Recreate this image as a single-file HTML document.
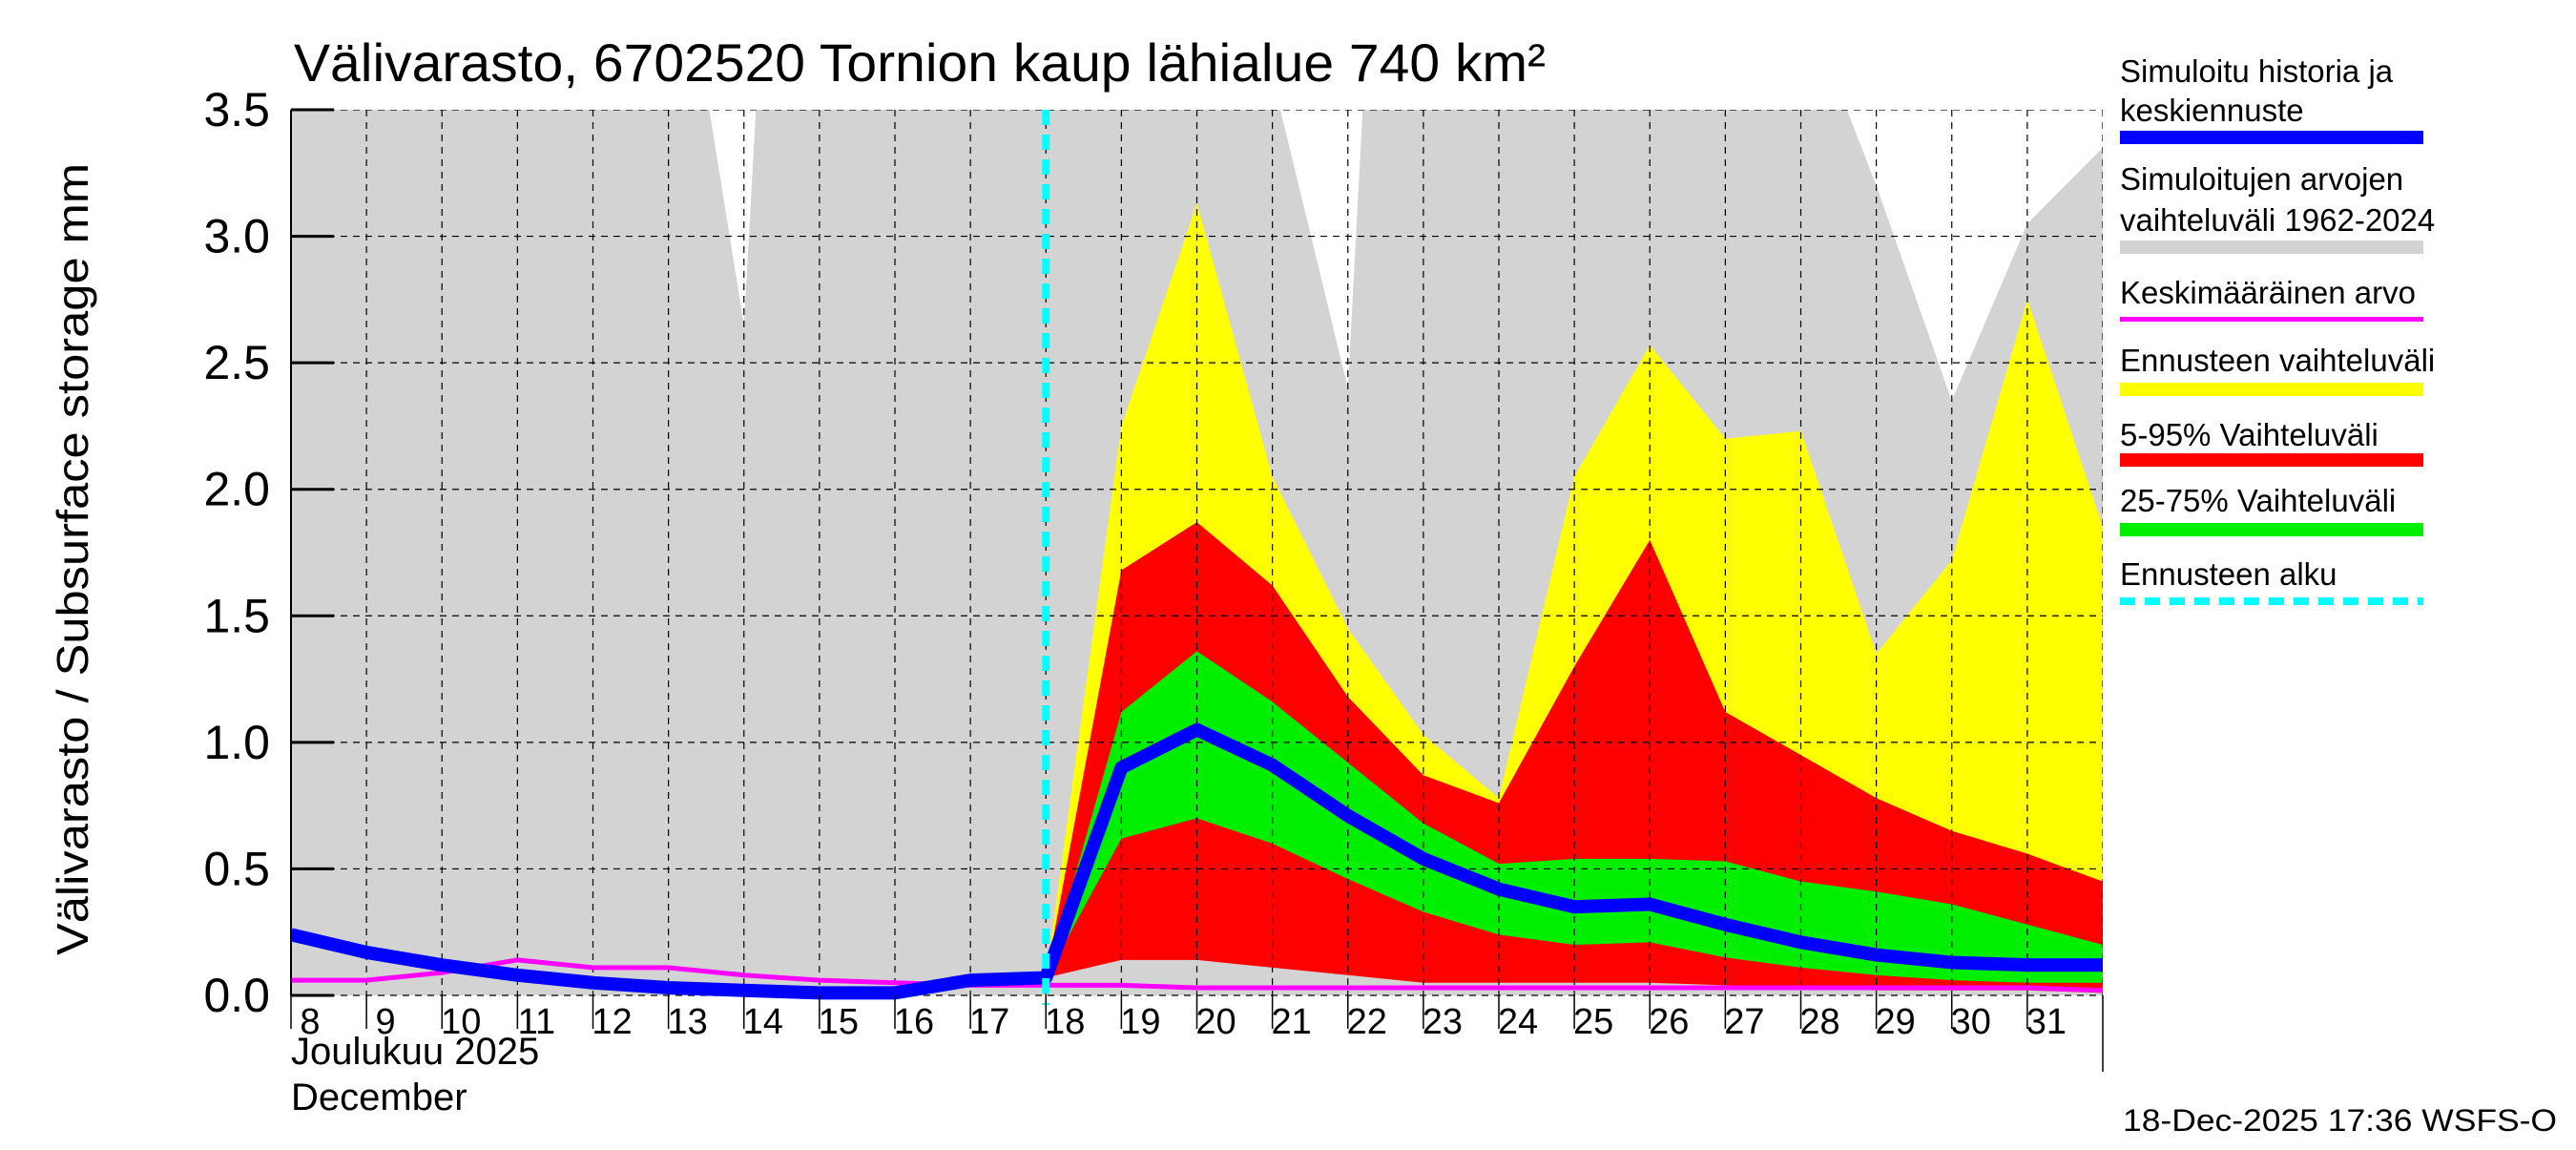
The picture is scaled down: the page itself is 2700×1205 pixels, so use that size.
<!DOCTYPE html>
<html><head><meta charset="utf-8"><style>
html,body{margin:0;padding:0;background:#fff}
svg text{font-family:"Liberation Sans Narrow","Liberation Sans",sans-serif;fill:#000}
</style></head><body>
<svg id="chart" width="2700" height="1200" viewBox="0 0 2700 1200" xmlns="http://www.w3.org/2000/svg">
<defs><clipPath id="pc"><rect x="305" y="115" width="1899" height="935"/></clipPath></defs>
<g id="plot" clip-path="url(#pc)"></g>
<g id="axes"></g>
<text x="308" y="85" font-size="56" textLength="1312" lengthAdjust="spacingAndGlyphs">Välivarasto, 6702520 Tornion kaup lähialue 740 km²</text>
<text transform="translate(92,586) rotate(-90)" text-anchor="middle" font-size="46" textLength="830" lengthAdjust="spacingAndGlyphs">Välivarasto / Subsurface storage  mm</text>
<text x="305" y="1115" font-size="40">Joulukuu  2025</text>
<text x="305" y="1163" font-size="40">December</text>
<text x="2680" y="1185" text-anchor="end" font-size="32" textLength="455" lengthAdjust="spacingAndGlyphs">18-Dec-2025 17:36 WSFS-O</text>
<g id="legend">
<g>
<text x="2222" y="86" font-size="33">Simuloitu historia ja</text>
<text x="2222" y="127" font-size="33">keskiennuste</text>
<rect x="2222" y="137" width="318" height="14" fill="#0000ff"/></g>
<g>
<text x="2222" y="199" font-size="33">Simuloitujen arvojen</text>
<text x="2222" y="242" font-size="33">vaihteluväli 1962-2024</text>
<rect x="2222" y="252" width="318" height="14" fill="#d3d3d3"/></g>
<g>
<text x="2222" y="318" font-size="33">Keskimääräinen arvo</text>
<rect x="2222" y="332" width="318" height="5" fill="#ff00ff"/></g>
<g>
<text x="2222" y="389" font-size="33">Ennusteen vaihteluväli</text>
<rect x="2222" y="401" width="318" height="14" fill="#ffff00"/></g>
<g>
<text x="2222" y="467" font-size="33">5-95% Vaihteluväli</text>
<rect x="2222" y="475" width="318" height="14" fill="#ff0000"/></g>
<g>
<text x="2222" y="536" font-size="33">25-75% Vaihteluväli</text>
<rect x="2222" y="548" width="318" height="14" fill="#00ee00"/></g>
<g>
<text x="2222" y="613" font-size="33">Ennusteen alku</text>
<line x1="2222" y1="630" x2="2540" y2="630" stroke="#00ffff" stroke-width="8" stroke-dasharray="16,10"/></g>
</g>
</svg>
<script>
const dayLabels=[8,9,10,11,12,13,14,15,16,17,18,19,20,21,22,23,24,25,26,27,28,29,30,31];
const yTicks=[0,0.5,1,1.5,2,2.5,3,3.5];
const histMax=[8,8,8,8,8,4.5,2.65,8,8,8,8,8,8,3.63,2.4,8,8,8,8,8,3.97,3.2,2.35,3.05,3.35];
const fcStart=10;
const yelHi=[0.07,2.25,3.13,2.05,1.45,1.03,0.78,2.05,2.57,2.2,2.23,1.35,1.72,2.75,1.85];
const yelLo=[0.07,0.15,0.15,0.12,0.09,0.06,0.08,0.08,0.07,0.06,0.05,0.04,0.03,0.03,0.02];
const redHi=[0.07,1.68,1.87,1.62,1.18,0.87,0.76,1.3,1.8,1.12,0.95,0.78,0.65,0.56,0.45];
const redLo=[0.07,0.14,0.14,0.11,0.08,0.05,0.05,0.05,0.05,0.04,0.03,0.02,0.02,0.02,0.01];
const grnHi=[0.07,1.12,1.36,1.16,0.92,0.68,0.52,0.54,0.54,0.53,0.45,0.41,0.36,0.28,0.2];
const grnLo=[0.07,0.62,0.7,0.6,0.46,0.33,0.24,0.2,0.21,0.15,0.11,0.08,0.06,0.05,0.05];
const blue=[0.24,0.17,0.12,0.08,0.05,0.03,0.02,0.01,0.01,0.06,0.07,0.9,1.05,0.91,0.71,0.54,0.42,0.35,0.36,0.28,0.21,0.16,0.13,0.12,0.12];
const mean=[0.06,0.06,0.09,0.14,0.11,0.11,0.08,0.06,0.05,0.04,0.04,0.04,0.03,0.03,0.03,0.03,0.03,0.03,0.03,0.03,0.03,0.03,0.03,0.03,0.02];
const L=305,R=2204,T=115,B=1043,NS="http://www.w3.org/2000/svg";
const X=i=>L+i*(R-L)/24, Y=v=>B-v*(B-T)/3.5;
const plot=document.getElementById('plot'),axes=document.getElementById('axes');
function mk(p,tag,at){const e=document.createElementNS(NS,tag);for(const k in at)e.setAttribute(k,at[k]);p.appendChild(e);return e;}
function band(hi,lo,off,fill,name){let pts=hi.map((v,i)=>X(i+off)+','+Y(v));for(let i=lo.length-1;i>=0;i--)pts.push(X(i+off)+','+Y(lo[i]));
const e=mk(plot,'polygon',{points:pts.join(' '),fill:fill});

}
mk(plot,'rect',{x:L,y:T,width:R-L,height:B-T,fill:'#fff'});
band(histMax,histMax.map(()=>0),0,'#d3d3d3','historical-range-band');
band(yelHi,yelLo,fcStart,'#ffff00','forecast-range-band');
band(redHi,redLo,fcStart,'#ff0000','band-5-95');
band(grnHi,grnLo,fcStart,'#00ee00','band-25-75');
for(let i=0;i<=24;i++){const g=mk(plot,'line',{x1:X(i),y1:T,x2:X(i),y2:B,stroke:'#000','stroke-width':1.2,'stroke-dasharray':'7,6'});

}
yTicks.forEach(v=>{const g=mk(plot,'line',{x1:L,y1:Y(v),x2:R,y2:Y(v),stroke:'#000','stroke-width':1.2,'stroke-dasharray':'7,6'});

});
const ml=mk(plot,'polyline',{points:mean.map((v,i)=>X(i)+','+Y(v)).join(' '),fill:'none',stroke:'#ff00ff','stroke-width':5});


const bl=mk(plot,'polyline',{points:blue.map((v,i)=>X(i)+','+Y(v)).join(' '),fill:'none',stroke:'#0000ff','stroke-width':14,'stroke-linejoin':'round'});


const fl=mk(axes,'line',{x1:X(fcStart),y1:T,x2:X(fcStart),y2:B+10,stroke:'#00ffff','stroke-width':8,'stroke-dasharray':'16,10'});


const ax=mk(axes,'line',{x1:L,y1:T,x2:L,y2:B,stroke:'#000','stroke-width':2});


yTicks.forEach(v=>{const t=mk(axes,'line',{x1:L,y1:Y(v),x2:L+45,y2:Y(v),stroke:'#000','stroke-width':3});


const tx=mk(axes,'text',{x:L-22,y:Y(v)+17,'text-anchor':'end','font-size':50});tx.textContent=v.toFixed(1);

});
for(let i=0;i<=24;i++){const t=mk(axes,'line',{x1:X(i),y1:B,x2:X(i),y2:B+(i==24?80:35),stroke:'#000','stroke-width':1.5});

}
dayLabels.forEach((d,i)=>{const tx=mk(axes,'text',{x:X(i)+20,y:B+40,'text-anchor':'middle','font-size':38});tx.textContent=d;

});
</script>
</body></html>
